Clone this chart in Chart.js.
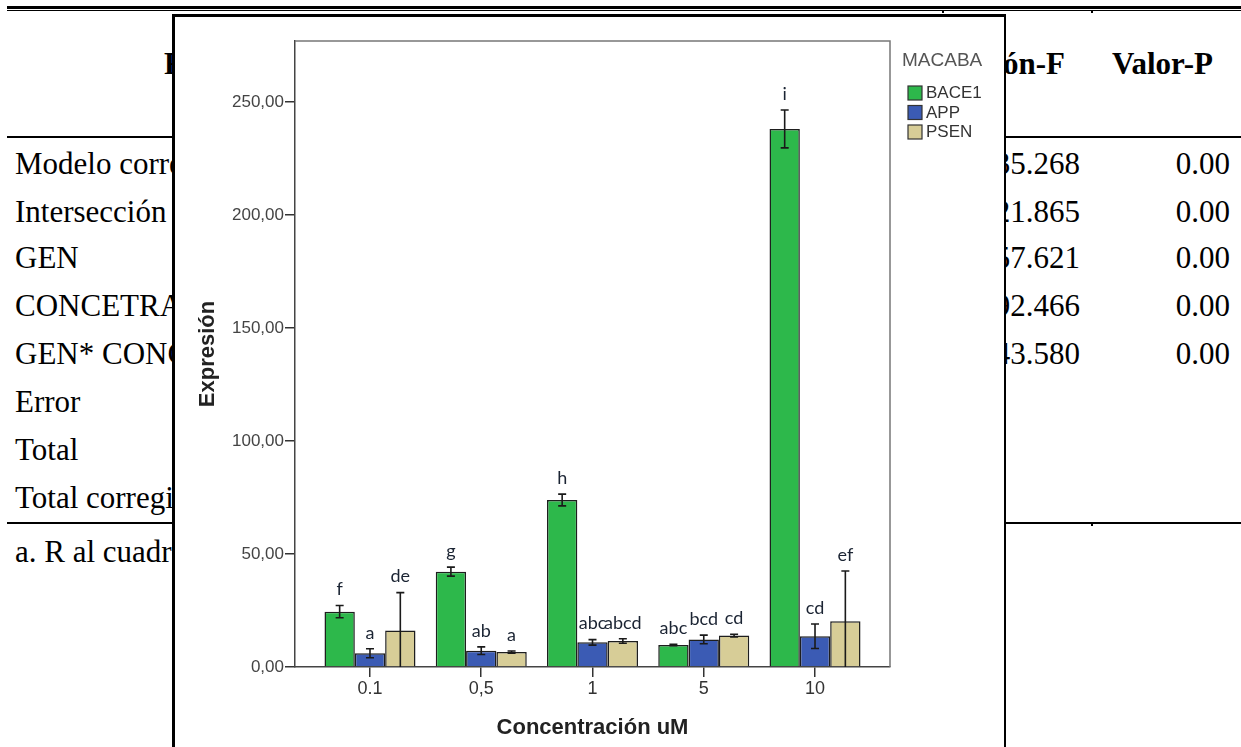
<!DOCTYPE html>
<html lang="es">
<head>
<meta charset="utf-8">
<title>Expresión por concentración – MACABA</title>
<script src="https://cdn.jsdelivr.net/npm/chart.js@4/dist/chart.umd.min.js"></script>
<style>
  html, body { margin: 0; padding: 0; background: #fff; width: 1241px; height: 747px; overflow: hidden; position: relative; }
  .t { position: absolute; font-family: 'Liberation Serif', 'Times New Roman', serif; font-size: 31px; line-height: 1; color: #000; white-space: nowrap; }
  .b { font-weight: bold; }
  .hl { position: absolute; background: #000; }
  #caja { position: absolute; left: 172px; top: 14px; width: 834px; height: 760px; box-sizing: border-box;
          border-left: 3px solid #000; border-top: 3px solid #000; border-right: 2px solid #000; background: #fff; }
  #lienzo { position: absolute; left: 0; top: 0; }
</style>
</head>
<body>
<div id="tabla"></div>
<div id="caja"><canvas id="lienzo" width="829" height="730"></canvas></div>
<script>
// ---- Tabla ANOVA (fondo) ----
const filas = ['Modelo corregido', 'Intersección', 'GEN', 'CONCETRACIÓN', 'GEN* CONCENTRACIÓN', 'Error', 'Total', 'Total corregido'];
const valoresF = ['35.268', '21.865', '57.621', '92.466', '43.580'];
const valoresP = ['0.00', '0.00', '0.00', '0.00', '0.00'];
const nota = 'a. R al cuadrado';

// ---- Gráfico de barras ----
const concentraciones = ['0.1', '0,5', '1', '5', '10'];
const bace1 = [24.5, 42.2, 73.9, 9.7, 238.1];
const errBace1 = [2.7, 2.0, 2.6, 0.3, 8.4];
const app = [6.1, 7.2, 10.9, 12.2, 13.6];
const errApp = [2.0, 1.7, 1.2, 1.9, 5.4];
const psen = [16.1, 6.6, 11.5, 13.9, 20.2];
const errPsen = [16.8, 0.5, 1.0, 0.6, 22.3];
const letrasBace1 = ['f', 'g', 'h', 'abc', 'i'];
const letrasApp = ['a', 'ab', 'abc', 'bcd', 'cd'];
const letrasPsen = ['de', 'a', 'abcd', 'cd', 'ef'];
const valoresY = [0, 50, 100, 150, 200, 250];
const etiquetasY = ['0,00', '50,00', '100,00', '150,00', '200,00', '250,00'];

// Tabla: texto y reglas
(function () {
  const tabla = document.getElementById('tabla');
  const add = (html, css, cls) => {
    const d = document.createElement('div');
    d.className = cls || 't';
    d.innerHTML = html;
    Object.assign(d.style, css);
    tabla.appendChild(d);
  };
  const centros = [164, 211.5, 258, 306, 354, 402, 450, 497.5];
  filas.forEach((f, i) => add(f, { left: '15px', top: (centros[i] - 15.7) + 'px' }));
  valoresF.forEach((v, i) => add(v, { right: '161px', top: (centros[i] - 15.7) + 'px' }));
  valoresP.forEach((v, i) => add(v, { right: '11px', top: (centros[i] - 15.7) + 'px' }));
  add(nota, { left: '15px', top: (552 - 15.7) + 'px' });
  add('Fuente', { left: '164px', top: (64 - 15.7) + 'px' }, 't b');
  add('Razón-F', { right: '176px', top: (64 - 15.7) + 'px' }, 't b');
  add('Valor-P', { right: '28px', top: (64 - 15.7) + 'px' }, 't b');
  const linea = (x, y, w, h) => add('', { left: x + 'px', top: y + 'px', width: w + 'px', height: h + 'px' }, 'hl');
  linea(7, 6, 1234, 3);
  linea(7, 10, 1234, 1);
  linea(7, 136, 1234, 2);
  linea(7, 522, 1234, 2);
  linea(942, 11, 2, 2);
  linea(1091, 11, 2, 2);
  linea(1091, 524, 2, 2);
})();

const SANS = "'Liberation Sans', Arial, sans-serif";
const NARROW = "'Liberation Sans Narrow', 'Liberation Sans', Arial, sans-serif";
const posiciones = concentraciones.map((_, i) => i);
const puntos = serie => serie.map((v, i) => ({ x: posiciones[i], y: v }));

// Marco gris del área de trazado (lados superior y derecho)
const marco = {
  id: 'marco',
  beforeDatasetsDraw(chart) {
    const { ctx, chartArea: a } = chart;
    ctx.save();
    ctx.strokeStyle = '#777';
    ctx.lineWidth = 1.5;
    ctx.beginPath();
    ctx.moveTo(a.left, a.top);
    ctx.lineTo(a.right, a.top);
    ctx.lineTo(a.right, a.bottom);
    ctx.stroke();
    ctx.restore();
  }
};

// Barras de error y letras de significación
const errores = {
  id: 'errores',
  afterDatasetsDraw(chart) {
    const { ctx } = chart;
    const y = chart.scales.y;
    chart.data.datasets.forEach((ds, di) => {
      const meta = chart.getDatasetMeta(di);
      meta.data.forEach((bar, i) => {
        const v = ds.data[i].y, e = ds.errores[i];
        const yTop = y.getPixelForValue(v + e);
        const yBot = y.getPixelForValue(Math.max(0, v - e));
        ctx.save();
        ctx.strokeStyle = '#1a1a1a';
        ctx.lineWidth = 1.6;
        ctx.beginPath();
        ctx.moveTo(bar.x, yTop); ctx.lineTo(bar.x, yBot);
        ctx.moveTo(bar.x - 4, yTop); ctx.lineTo(bar.x + 4, yTop);
        if (v - e > 0) { ctx.moveTo(bar.x - 4, yBot); ctx.lineTo(bar.x + 4, yBot); }
        ctx.stroke();
        ctx.fillStyle = '#1b2433';
        ctx.font = "18px Lato, 'Open Sans', sans-serif";
        ctx.textAlign = 'center';
        ctx.textBaseline = 'middle';
        ctx.fillText(ds.letras[i], bar.x, yTop - 16);
        ctx.restore();
      });
    });
  }
};

// Leyenda con título
const leyenda = {
  id: 'leyenda',
  afterDraw(chart) {
    const { ctx } = chart;
    ctx.save();
    ctx.fillStyle = '#555';
    ctx.font = '19px ' + NARROW;
    ctx.textBaseline = 'middle';
    ctx.textAlign = 'left';
    ctx.fillText('MACABA', 727, 44);
    chart.data.datasets.forEach((ds, i) => {
      const cy = 76 + i * 19.5;
      ctx.fillStyle = ds.backgroundColor;
      ctx.fillRect(733, cy - 7, 14, 14);
      ctx.strokeStyle = '#333';
      ctx.lineWidth = 1.2;
      ctx.strokeRect(733, cy - 7, 14, 14);
      ctx.fillStyle = '#333';
      ctx.font = '17px ' + NARROW;
      ctx.fillText(ds.label, 751, cy + 0.5);
    });
    ctx.restore();
  }
};

new Chart(document.getElementById('lienzo'), {
  type: 'bar',
  data: {
    datasets: [
      { label: 'BACE1', data: puntos(bace1), backgroundColor: '#2db84b', errores: errBace1, letras: letrasBace1 },
      { label: 'APP', data: puntos(app), backgroundColor: '#3b5bb4', errores: errApp, letras: letrasApp },
      { label: 'PSEN', data: puntos(psen), backgroundColor: '#d7cd97', errores: errPsen, letras: letrasPsen }
    ]
  },
  options: {
    responsive: false,
    animation: false,
    events: [],
    layout: { padding: { left: 0, top: 24, right: 114, bottom: 0 }, autoPadding: false },
    datasets: {
      bar: { categoryPercentage: 0.818, barPercentage: 1, borderColor: '#1e1e1e', borderWidth: 1.5 }
    },
    plugins: { legend: { display: false }, tooltip: { enabled: false } },
    scales: {
      x: {
        type: 'linear',
        min: -0.674,
        max: 4.674,
        offset: false,
        afterBuildTicks: s => { s.ticks = posiciones.map(v => ({ value: v })); },
        afterFit: s => { s.height = 80; },
        grid: { display: true, offset: false, drawOnChartArea: false, drawTicks: true, tickLength: 10, color: '#333', lineWidth: 1.5 },
        border: { display: true, color: '#444', width: 1.5 },
        ticks: { callback: v => concentraciones[v], autoSkip: false, maxRotation: 0, padding: 1, color: '#333', font: { family: NARROW, size: 18 } },
        title: { display: true, text: 'Concentración uM', color: '#222', font: { family: SANS, size: 22, weight: 'bold' }, padding: { top: 0, bottom: 6 } }
      },
      y: {
        min: 0,
        max: 277,
        afterBuildTicks: s => { s.ticks = valoresY.map(v => ({ value: v })); },
        afterFit: s => { s.width = 120; },
        grid: { display: true, drawOnChartArea: false, drawTicks: true, tickLength: 10, color: '#333', lineWidth: 1.5 },
        border: { display: true, color: '#444', width: 1.5 },
        ticks: { callback: (v) => etiquetasY[valoresY.indexOf(v)], padding: 1, color: '#444', font: { family: SANS, size: 17 } },
        title: { display: true, text: 'Expresión', color: '#222', font: { family: SANS, size: 22, weight: 'bold' }, padding: { top: 20, bottom: 0 } }
      }
    }
  },
  plugins: [marco, errores, leyenda]
});
</script>
</body>
</html>
